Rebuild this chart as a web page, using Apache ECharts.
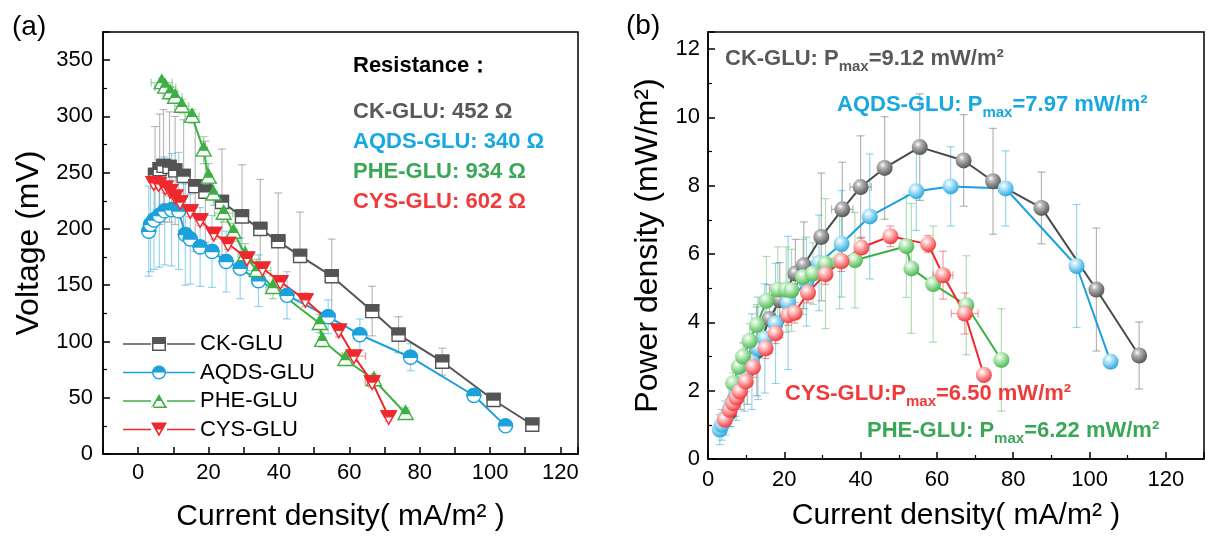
<!DOCTYPE html>
<html>
<head>
<meta charset="utf-8">
<script src="https://cdn.jsdelivr.net/npm/echarts@6/dist/echarts.min.js"></script>
<style>
  html, body { margin: 0; background: #fff; }
  #main { width: 1208px; height: 540px; }
</style>
</head>
<body>
<div id="main"></div>
<script>
// ---- panel (a): voltage vs current density ----
var ckVoltX   = [4.8, 6.1, 7.2, 8.9, 10.5, 12.9, 16.2, 19.1, 23.8, 29.5, 34.7, 39.8, 46, 55, 66.5, 74, 86.4, 101, 112];
var ckVolt    = [248, 253, 256, 255, 252, 247, 238, 233, 224, 211, 200, 189, 176, 158, 127, 106, 82, 48, 26];
var ckVoltErr = [43, 49, 50, 49, 48, 50, 58, 45, 47, 46, 44, 43, 39, 33, 22, 16, 12, 4, 3];
var ckVoltXErr = [0, 0, 0, 0, 0, 0, 0, 0, 0, 0, 0, 2, 0, 0, 0, 0, 0, 0, 0];

var aqVoltX   = [3.0, 3.5, 4.5, 6.0, 7.5, 9.5, 11.5, 13.4, 14.8, 17.6, 21, 25, 29, 34.2, 42.3, 54, 63, 77.4, 95.4, 104.4];
var aqVolt    = [198, 204, 208, 212, 216, 217, 216, 195, 191, 184, 180, 171, 165, 154, 141, 122, 106, 86, 52, 25];
var aqVoltErr = [40, 42, 44, 46, 48, 50, 52, 45, 40, 35, 32, 27, 27, 23, 21, 15, 14, 12, 4, 3];

var pheVoltX   = [6.7, 7.7, 9.1, 10.5, 12.4, 15.3, 18.6, 20, 21.4, 24.3, 27.1, 30.4, 33.7, 38.3, 51.6, 52.3, 58.9, 67, 76];
var pheVolt    = [330, 326, 321, 317, 309, 300, 270, 246, 231, 214, 197, 177, 163, 148, 116, 101, 84, 66, 36];
var pheVoltErr = [4, 4, 5, 5, 6, 6, 12, 12, 10, 8, 8, 10, 10, 10, 8, 6, 5, 5, 5];
var pheVoltXErr = [3, 3, 2, 2, 2, 2, 1, 1, 1, 2.6, 1, 2, 4, 2, 1, 1, 1, 1, 1];

var cysVoltX   = [4.4, 5.8, 7.7, 9.1, 10.5, 11.9, 14.8, 17.6, 21.5, 25.5, 30.9, 35.3, 40.4, 47.5, 57, 61.3, 66.5, 71.2];
var cysVolt    = [241, 240, 237, 234, 229, 224, 216, 208, 196, 187, 174, 165, 153, 137, 110, 87, 64, 33];
var cysVoltErr = [5, 5, 5, 5, 5, 5, 5, 5, 5, 5, 5, 5, 5, 6, 6, 5, 5, 4];
var cysVoltXErr = [0, 0, 0, 0, 0, 0, 0, 0, 0, 0, 0, 0, 0, 0, 0, 3.3, 2, 0];

// ---- panel (b): power density vs current density ----
var ckPowX   = [5.5, 7, 8.5, 10.3, 12.8, 16.1, 18.8, 22.9, 25.1, 29.7, 35.2, 40, 46.3, 55.5, 67, 74.7, 87.4, 101.8, 113];
var ckPow    = [1.35, 1.75, 2.15, 2.6, 3.15, 4.1, 4.65, 5.43, 5.67, 6.5, 7.31, 7.96, 8.52, 9.13, 8.74, 8.13, 7.35, 4.96, 3.03];
var ckPowErr = [0.4, 0.5, 0.7, 1.0, 1.3, 1.0, 1.1, 1.0, 1.27, 1.87, 1.38, 1.5, 1.5, 1.56, 1.34, 1.55, 1.05, 1.8, 0.98];
var ckPowXErr = [0, 0, 0, 0, 0, 0, 0, 0, 0, 0, 2.8, 2.8, 0, 0, 0, 0, 0, 0, 0];

var aqPowX   = [3.1, 3.6, 4.5, 6, 7.4, 9.5, 11.5, 13.1, 14.9, 17.7, 21, 25.8, 29.1, 35, 42.4, 54.6, 63.6, 78, 96.6, 105.5];
var aqPow    = [0.86, 1.0, 1.2, 1.55, 1.93, 2.4, 2.85, 3.24, 3.53, 3.97, 4.57, 5.19, 5.74, 6.3, 7.1, 7.84, 7.98, 7.92, 5.65, 2.85];
var aqPowErr = [0.44, 0.45, 0.5, 0.6, 0.8, 1.0, 1.4, 1.5, 1.6, 1.76, 1.95, 1.3, 1.4, 1.56, 1.83, 1.15, 1.16, 1.1, 1.8, 0.2];

var phePowX   = [6.6, 8.1, 9.2, 10.9, 12.8, 15.3, 18.3, 20.5, 21.9, 24.9, 27.5, 30.8, 34.5, 38.5, 52, 53.3, 59, 67.7, 76.9];
var phePow    = [2.22, 2.7, 3.0, 3.46, 3.92, 4.63, 4.96, 4.96, 4.94, 5.33, 5.43, 5.72, 5.8, 5.82, 6.23, 5.58, 5.12, 4.5, 2.9];
var phePowErr = [0.3, 0.35, 0.4, 0.5, 0.6, 1.3, 1.25, 1.25, 1.2, 1.1, 0.9, 1.9, 1.4, 1.4, 1.5, 1.9, 1.7, 1.45, 1.5];

var cysPowX   = [4.4, 5.7, 6.6, 7.5, 8.3, 9.9, 11.8, 15.1, 17.7, 21, 22.7, 26.2, 30.8, 35, 40.2, 47.8, 57.7, 61.6, 67.3, 72.3];
var cysPow    = [1.15, 1.44, 1.63, 1.8, 1.97, 2.27, 2.69, 3.24, 3.68, 4.21, 4.28, 4.87, 5.41, 5.79, 6.19, 6.52, 6.29, 5.38, 4.26, 2.46];
var cysPowErr = [0.2, 0.2, 0.25, 0.25, 0.3, 0.3, 0.3, 0.3, 0.3, 0.3, 0.3, 0.3, 0.3, 0.3, 0.3, 0.3, 0.25, 0.7, 0.6, 0.2];
var cysPowXErr = [0, 0, 0, 0, 0, 0, 0, 0, 0, 0, 0, 0, 0, 0, 0, 0, 0, 2.6, 3.5, 0];

var CK = '#555555', AQ = '#1ba1db', PHE = '#3cb043', CYS = '#f0282d';
var FONT = '"Liberation Sans", Arial, sans-serif';

var myChart = echarts.init(document.getElementById('main'));

function pairs(xs, ys) {
  return xs.map(function (x, i) { return [x, ys[i]]; });
}
function errRows(xs, ys, ey, ex) {
  return xs.map(function (x, i) { return [x, ys[i], ey[i] || 0, ex ? ex[i] : 0]; });
}

// error bars (vertical + optional horizontal) with caps
function renderErr(params, api) {
  var x = api.value(0), y = api.value(1), ey = api.value(2), ex = api.value(3);
  var c = api.visual('color'), cap = 4, kids = [];
  function seg(x1, y1, x2, y2) {
    kids.push({ type: 'line', shape: { x1: x1, y1: y1, x2: x2, y2: y2 },
      style: { stroke: c, lineWidth: 1.2, fill: null } });
  }
  if (ey > 0) {
    var t = api.coord([x, y + ey]), b = api.coord([x, y - ey]);
    seg(t[0], t[1], b[0], b[1]);
    seg(t[0] - cap, t[1], t[0] + cap, t[1]);
    seg(b[0] - cap, b[1], b[0] + cap, b[1]);
  }
  if (ex > 0) {
    var l = api.coord([x - ex, y]), r = api.coord([x + ex, y]);
    seg(l[0], l[1], r[0], r[1]);
    seg(l[0], l[1] - cap, l[0], l[1] + cap);
    seg(r[0], r[1] - cap, r[0], r[1] + cap);
  }
  return { type: 'group', children: kids };
}

// half filled markers of panel (a)
function halfMarker(kind, color) {
  return function (params, api) {
    var p = api.coord([api.value(0), api.value(1)]);
    var cx = p[0], cy = p[1], r = 6.5;
    var hollow = { fill: '#fff', stroke: color, lineWidth: 1.4 };
    var solid = { fill: color, stroke: color, lineWidth: 1.4 };
    var a, b;
    if (kind === 'square') {
      a = { type: 'rect', shape: { x: cx - r, y: cy - r, width: 2 * r, height: 2 * r }, style: hollow };
      b = { type: 'rect', shape: { x: cx - r, y: cy - r, width: 2 * r, height: r }, style: solid };
    } else if (kind === 'circle') {
      a = { type: 'circle', shape: { cx: cx, cy: cy, r: r + 0.5 }, style: hollow };
      b = { type: 'sector', shape: { cx: cx, cy: cy, r0: 0, r: r + 0.5, startAngle: Math.PI, endAngle: Math.PI * 2 }, style: solid };
    } else if (kind === 'up') {
      a = { type: 'polygon', shape: { points: [[cx, cy - 7.5], [cx + 7.5, cy + 6], [cx - 7.5, cy + 6]] }, style: hollow };
      b = { type: 'polygon', shape: { points: [[cx, cy - 7.5], [cx + 4.2, cy], [cx - 4.2, cy]] }, style: solid };
    } else {
      a = { type: 'polygon', shape: { points: [[cx - 7.5, cy - 6], [cx + 7.5, cy - 6], [cx, cy + 7.5]] }, style: hollow };
      b = { type: 'polygon', shape: { points: [[cx - 7.5, cy - 6], [cx + 7.5, cy - 6], [cx + 4.2, cy], [cx - 4.2, cy]] }, style: solid };
    }
    return { type: 'group', children: [a, b] };
  };
}

function ball(base, light) {
  return { type: 'radial', x: 0.38, y: 0.32, r: 0.75,
    colorStops: [{ offset: 0, color: '#ffffff' }, { offset: 0.25, color: light }, { offset: 1, color: base }] };
}

// legend icons: line + half filled marker, one path each
var ICON_SQ = 'path://M0,6.25H28V7.75H0Z M44,6.25H72V7.75H44Z M29,0H43V7H29Z M29,7H30.5V14H29Z M41.5,7H43V14H41.5Z M29,12.5H43V14H29Z';
var ICON_CI = 'path://M0,6.25H29V7.75H0Z M43,6.25H72V7.75H43Z M29,7A7,7 0 0 1 43,7Z M29,7A7,7 0 0 0 43,7L41.5,7A5.5,5.5 0 0 1 30.5,7Z';
var ICON_UP = 'path://M0,6.25H28V7.75H0Z M44,6.25H72V7.75H44Z M36,0L40,7L32,7Z M32,7L28,14L30,14L33.8,7Z M40,7L44,14L42,14L38.2,7Z M28,12.5H44V14H28Z';
var ICON_DN = 'path://M0,6.25H28V7.75H0Z M44,6.25H72V7.75H44Z M28,0H44L40,7H32Z M32,7L33.9,7L36,10.7L36,14Z M40,7L38.1,7L36,10.7L36,14Z';

function axisBase(extra) {
  var o = {
    nameLocation: 'middle',
    axisLine: { show: true, onZero: false, lineStyle: { color: '#000', width: 1.5 } },
    axisTick: { show: true, inside: true, length: 7, lineStyle: { color: '#000', width: 1.5 } },
    minorTick: { show: true, splitNumber: 2, length: 4, lineStyle: { color: '#000', width: 1.2 } },
    axisLabel: { color: '#000', fontSize: 22, fontFamily: FONT },
    splitLine: { show: false },
    nameTextStyle: { color: '#000', fontSize: 30, fontFamily: FONT }
  };
  for (var k in extra) o[k] = extra[k];
  return o;
}
function every(step) {
  return function (v) { return Math.abs(v % step) < 1e-9 ? String(v) : ''; };
}

function errSeries(name, xi, xs, ys, ey, ex, color) {
  return { name: name, type: 'custom', xAxisIndex: xi, yAxisIndex: xi, z: 1,
    renderItem: renderErr, encode: { x: 0, y: 1 }, itemStyle: { color: color },
    data: errRows(xs, ys, ey, ex), silent: true };
}
function lineA(name, xs, ys, color) {
  return { name: name, type: 'line', xAxisIndex: 0, yAxisIndex: 0, z: 2, symbol: 'none',
    itemStyle: { color: color }, lineStyle: { color: color, width: 2 }, data: pairs(xs, ys) };
}
function markA(name, kind, xs, ys, color) {
  return { name: name, type: 'custom', xAxisIndex: 0, yAxisIndex: 0, z: 3,
    renderItem: halfMarker(kind, color), encode: { x: 0, y: 1 }, itemStyle: { color: color },
    data: pairs(xs, ys) };
}
function lineB(name, xs, ys, color, light) {
  return { name: name, type: 'line', xAxisIndex: 1, yAxisIndex: 1, z: 2, symbol: 'circle', symbolSize: 16,
    itemStyle: { color: ball(color, light) }, lineStyle: { color: color, width: 2 }, data: pairs(xs, ys) };
}

function pmax(x, y, head, tail, color) {
  return { type: 'text', x: x, y: y, z: 10,
    style: { text: '{a|' + head + '}{s|max}{a|' + tail + '}', verticalAlign: 'middle', align: 'left',
      rich: {
        a: { fontSize: 22, fontWeight: 'bold', fontFamily: FONT, fill: color, lineHeight: 24 },
        s: { fontSize: 15, fontWeight: 'bold', fontFamily: FONT, fill: color, lineHeight: 15, padding: [16, 0, 0, 0] }
      } } };
}
function note(x, y, text, color) {
  return { type: 'text', x: x, y: y, z: 10,
    style: { text: text, fill: color, fontSize: 22, fontWeight: 'bold', fontFamily: FONT, verticalAlign: 'middle' } };
}

var yName = { color: '#000', fontSize: 32, fontFamily: FONT };

var option = {
  backgroundColor: '#fff',
  animation: false,
  grid: [
    { left: 103, top: 32, width: 475, height: 422, show: true, borderColor: '#000', borderWidth: 1.5 },
    { left: 708, top: 32, right: 4, height: 427, show: true, borderColor: '#000', borderWidth: 1.5 }
  ],
  xAxis: [
    axisBase({ gridIndex: 0, type: 'value', min: -10, max: 125, interval: 10, name: 'Current density( mA/m² )', nameGap: 48,
      minorTick: { show: false },
      axisLabel: { color: '#000', fontSize: 22, fontFamily: FONT, margin: 8, formatter: every(20) } }),
    axisBase({ gridIndex: 1, type: 'value', min: 0, max: 130, interval: 20, name: 'Current density( mA/m² )', nameGap: 42,
      axisLabel: { color: '#000', fontSize: 22, fontFamily: FONT, margin: 10, formatter: every(20) } })
  ],
  yAxis: [
    axisBase({ gridIndex: 0, type: 'value', min: 0, max: 375, interval: 50, name: 'Voltage (mV)', nameGap: 58,
      nameTextStyle: yName,
      axisLabel: { color: '#000', fontSize: 22, fontFamily: FONT, margin: 10, formatter: every(50) } }),
    axisBase({ gridIndex: 1, type: 'value', min: 0, max: 12.5, interval: 2, name: 'Power density (mW/m²)', nameGap: 44,
      nameTextStyle: yName,
      axisLabel: { color: '#000', fontSize: 22, fontFamily: FONT, margin: 8, formatter: every(2) } })
  ],
  legend: {
    orient: 'vertical', left: 118, top: 328, itemWidth: 72, itemHeight: 14, itemGap: 6.5,
    textStyle: { fontSize: 22, fontFamily: FONT, color: '#000' },
    itemStyle: { borderWidth: 0 },
    data: [
      { name: 'CK-GLU', icon: ICON_SQ, itemStyle: { color: CK } },
      { name: 'AQDS-GLU', icon: ICON_CI, itemStyle: { color: AQ } },
      { name: 'PHE-GLU', icon: ICON_UP, itemStyle: { color: PHE } },
      { name: 'CYS-GLU', icon: ICON_DN, itemStyle: { color: CYS } }
    ]
  },
  graphic: [
    { type: 'text', x: 12, y: 27, style: { text: '(a)', fontSize: 28, fontFamily: FONT, fill: '#000', verticalAlign: 'middle' } },
    { type: 'text', x: 626, y: 26, style: { text: '(b)', fontSize: 28, fontFamily: FONT, fill: '#000', verticalAlign: 'middle' } },
    note(353, 66, 'Resistance：', '#000'),
    note(353, 112, 'CK-GLU: 452 Ω', '#595959'),
    note(353, 142, 'AQDS-GLU: 340 Ω', '#16a8e0'),
    note(353, 172, 'PHE-GLU: 934 Ω', '#3aa757'),
    note(353, 202, 'CYS-GLU: 602 Ω', '#ef3b3b'),
    pmax(725, 59, 'CK-GLU: P', '=9.12 mW/m²', '#595959'),
    pmax(837, 105, 'AQDS-GLU: P', '=7.97 mW/m²', '#16a8e0'),
    pmax(785, 394, 'CYS-GLU:P', '=6.50 mW/m²', '#ef3b3b'),
    pmax(867, 431, 'PHE-GLU: P', '=6.22 mW/m²', '#3aa757')
  ],
  series: [
    errSeries('ck-err-a', 0, ckVoltX, ckVolt, ckVoltErr, ckVoltXErr, 'rgba(140,140,140,0.6)'),
    errSeries('aq-err-a', 0, aqVoltX, aqVolt, aqVoltErr, null, 'rgba(27,161,219,0.45)'),
    errSeries('phe-err-a', 0, pheVoltX, pheVolt, pheVoltErr, pheVoltXErr, 'rgba(60,176,67,0.5)'),
    errSeries('cys-err-a', 0, cysVoltX, cysVolt, cysVoltErr, cysVoltXErr, 'rgba(240,40,45,0.45)'),
    lineA('CK-GLU', ckVoltX, ckVolt, CK),
    lineA('AQDS-GLU', aqVoltX, aqVolt, AQ),
    lineA('PHE-GLU', pheVoltX, pheVolt, PHE),
    lineA('CYS-GLU', cysVoltX, cysVolt, CYS),
    markA('ck-mark', 'square', ckVoltX, ckVolt, CK),
    markA('aq-mark', 'circle', aqVoltX, aqVolt, AQ),
    markA('phe-mark', 'up', pheVoltX, pheVolt, PHE),
    markA('cys-mark', 'down', cysVoltX, cysVolt, CYS),

    errSeries('ck-err-b', 1, ckPowX, ckPow, ckPowErr, ckPowXErr, 'rgba(120,120,120,0.55)'),
    errSeries('aq-err-b', 1, aqPowX, aqPow, aqPowErr, null, 'rgba(27,161,219,0.45)'),
    errSeries('phe-err-b', 1, phePowX, phePow, phePowErr, null, 'rgba(60,176,67,0.4)'),
    errSeries('cys-err-b', 1, cysPowX, cysPow, cysPowErr, cysPowXErr, 'rgba(240,40,45,0.45)'),
    lineB('CK-GLU (b)', ckPowX, ckPow, '#4a4a4a', '#b8b8b8'),
    lineB('AQDS-GLU (b)', aqPowX, aqPow, AQ, '#bfe9fb'),
    lineB('PHE-GLU (b)', phePowX, phePow, PHE, '#c8f0c8'),
    lineB('CYS-GLU (b)', cysPowX, cysPow, CYS, '#ffc9c9')
  ]
};

option && myChart.setOption(option);
</script>
</body>
</html>
